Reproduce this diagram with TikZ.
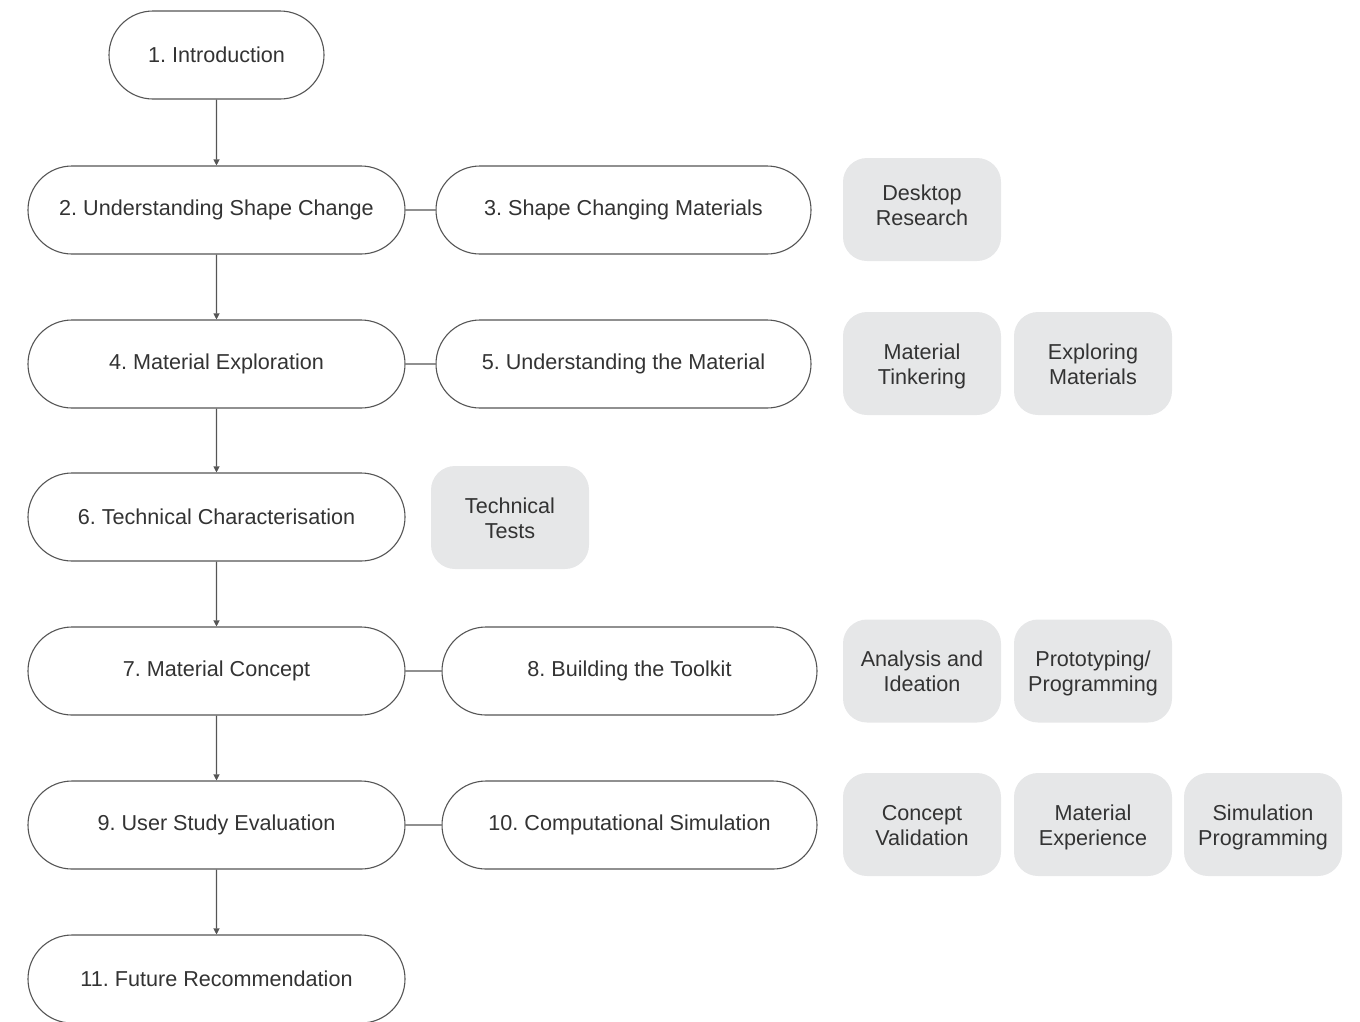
\documentclass[tikz,border=0pt]{standalone}
\usepackage{fontspec}
\setmainfont{Liberation Sans}
\usetikzlibrary{shapes.misc,arrows.meta}
\definecolor{ln}{HTML}{555555}
\definecolor{tx}{HTML}{333333}
\definecolor{gb}{HTML}{E6E7E8}
\newcommand\twol[2]{\rule{0pt}{23.5pt}#1\\\strut #2}
\begin{document}
\begin{tikzpicture}[x=1pt,y=-1pt,
  font=\frenchspacing\fontsize{21.6}{25}\selectfont,
  pill/.style={rounded rectangle, draw=ln, line width=1.1pt, fill=white, text=tx,
    minimum height=88pt, inner sep=0pt},
  wide/.style={pill, minimum width=377pt},
  tag/.style={rectangle, rounded corners=24pt, fill=gb, text=tx, minimum width=158pt,
    minimum height=103pt, inner sep=0pt, align=center},
  arr/.style={draw=ln, line width=1.1pt, -{Triangle[length=6pt,width=6pt]}},
  link/.style={draw=ln, line width=1.1pt}]
\useasboundingbox (0,0) rectangle (1360,1021);
\begin{scope}
\clip (0,0) rectangle (1360,1021);
\node[pill, minimum width=215pt] (n1) at (216.5,55) {1. Introduction};
\node[wide] (n2) at (216.5,210) {2. Understanding Shape Change};
\node[wide, minimum width=375pt] (n3) at (623.5,210) {3. Shape Changing Materials};
\node[tag] (t1) at (922,209.5) {\twol{Desktop}{Research\rule[-17.5pt]{0pt}{0pt}}};

\node[wide] (n4) at (216.5,364) {4. Material Exploration};
\node[wide, minimum width=375pt] (n5) at (623.5,364) {5. Understanding the Material};
\node[tag] (t2) at (922,363.5) {\twol{Material}{Tinkering}};
\node[tag] (t3) at (1093,363.5) {\twol{Exploring}{Materials}};

\node[wide] (n6) at (216.5,517) {6. Technical Characterisation};
\node[tag] (t4) at (510,517.5) {\twol{Technical}{Tests}};

\node[wide] (n7) at (216.5,671) {7. Material Concept};
\node[wide, minimum width=375pt] (n8) at (629.5,671) {8. Building the Toolkit};
\node[tag] (t5) at (922,671) {\twol{Analysis and}{Ideation}};
\node[tag] (t6) at (1093,671) {\twol{Prototyping/}{Programming}};

\node[wide] (n9) at (216.5,825) {9. User Study Evaluation};
\node[wide, minimum width=375pt] (n10) at (629.5,825) {10. Computational Simulation};
\node[tag] (t7) at (922,824.5) {\twol{Concept}{Validation}};
\node[tag] (t8) at (1093,824.5) {\twol{Material}{Experience}};
\node[tag] (t9) at (1263,824.5) {\twol{Simulation}{Programming}};

\node[wide] (n11) at (216.5,979) {11. Future Recommendation};

\draw[arr] (n1) -- (n2);
\draw[arr] (n2) -- (n4);
\draw[arr] (n4) -- (n6);
\draw[arr] (n6) -- (n7);
\draw[arr] (n7) -- (n9);
\draw[arr] (n9) -- (n11);
\draw[link] (n2) -- (n3);
\draw[link] (n4) -- (n5);
\draw[link] (n7) -- (n8);
\draw[link] (n9) -- (n10);
\end{scope}
\end{tikzpicture}
\end{document}
